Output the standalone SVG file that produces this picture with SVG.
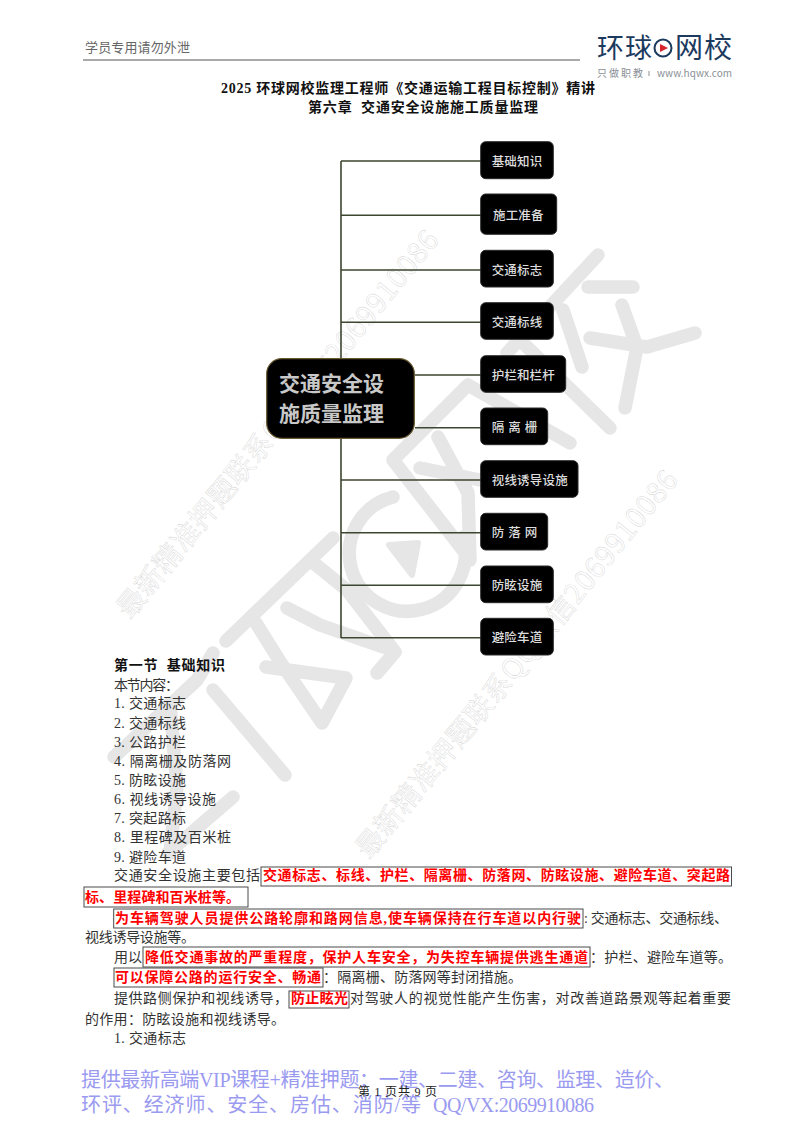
<svg xmlns="http://www.w3.org/2000/svg" width="800" height="1132" viewBox="0 0 800 1132">
<style>
text{font-family:"Liberation Serif","Noto Sans CJK SC",serif;fill:#333;font-size:14px;white-space:pre}
.b{font-weight:700;fill:#111}
.r{font-weight:700;fill:#f00}
.box{fill:none;stroke:#4a4a4a;stroke-width:1}
.wm{fill:none;stroke:#e6e6e6;stroke-width:13.500;stroke-linecap:round;stroke-linejoin:round}
.wt{font-family:"Noto Sans CJK SC","Liberation Sans",sans-serif;font-size:28px;fill:none;stroke:#d2d2d2;stroke-width:.4}
.n{fill:#000;stroke:#2a2a2a;stroke-width:1}
.nt{font-family:"Noto Sans CJK SC",sans-serif;font-size:12.500px;fill:#ddd;font-weight:500}
.rt{font-family:"Noto Sans CJK SC",sans-serif;font-size:21px;font-weight:700;fill:#c8c8c8}
.blue{fill:#9a9af0;font-size:20px}
.c{fill:none;stroke:#3d4630;stroke-width:1.600}
.lg{font-family:"Noto Sans CJK SC",sans-serif;font-weight:400;fill:#1c3a5e}
.tg{font-family:"Noto Sans CJK SC","Liberation Sans",sans-serif;font-size:10px;fill:#8a8f96}
</style>
<rect width="800" height="1132" fill="#fff"/>
<g id="watermark">
<path class="wm" d="M226 641L333 538M287 608L320 625L383 647M377 673L395 652L347 590L310 560M256 623L281 663L322 723M266 667L346 678L322 723M114 757L197 680L213 653M213 690L285 775M233 797L168 853M170 703L177 787L170 853"/>
<path class="wm" d="M393 497A58 58 0 1 0 463 537"/>
<path d="M389 545L418 543L412 575Z" fill="#e6e6e6" stroke="#e6e6e6" stroke-width="6" stroke-linejoin="round"/>
<path class="wm" d="M507 353L598 255M588 287H633M563 310L582 367M590 338L647 347L695 333M622 305L637 347L625 408M520 340L610 428M463 550L393 460L468 385L570 443M438 437L468 493L470 560M420 468L480 480"/>
<text class="wt" transform="translate(130 620) rotate(-50.7)" textLength="490" lengthAdjust="spacing">最新精准押题联系QQ微信2069910086</text>
<text class="wt" transform="translate(369 860) rotate(-50.7)" textLength="490" lengthAdjust="spacing">最新精准押题联系QQ微信2069910086</text>
</g>
<g id="header">
<text x="85" y="52" style="fill:#666;font-size:13px" textLength="105">学员专用请勿外泄</text>
<line x1="83" y1="60" x2="580" y2="60" stroke="#555" stroke-width="1"/>
</g>
<g id="logo">
<text class="lg" x="597" y="58" style="font-size:27px" textLength="55">环球</text>
<circle cx="663" cy="48" r="8.500" fill="none" stroke="#1c3a5e" stroke-width="2"/>
<path d="M660 44L668 48L660 52Z" fill="#d8232a"/>
<text class="lg" x="675" y="58" style="font-size:28px" textLength="57">网校</text>
<text class="tg" x="597" y="77" textLength="46">只做职教</text>
<line x1="649" y1="71" x2="649" y2="76" stroke="#8a8f96" stroke-width="1"/>
<text class="tg" x="657" y="77" textLength="75">www.hqwx.com</text>
</g>
<g id="titles">
<text class="b" x="221" y="93" textLength="374">2025 环球网校监理工程师《交通运输工程目标控制》精讲</text>
<text class="b" x="308" y="112" textLength="230">第六章  交通安全设施施工质量监理</text>
</g>
<g id="connectors">
<path class="c" d="M341 161V638M341 161H481M341 215.300H481M341 270H481M341 322.300H481M415 375H481M415 427.700H481M341 480H481M341 532.700H481M341 585.300H481M341 637.700H481"/>
</g>
<g id="root"><rect x="266.700" y="358.700" width="147.600" height="79.600" rx="15" fill="#000" stroke="#6b5a30" stroke-width="1.200"/>
<text class="rt" x="279" y="391" textLength="105">交通安全设</text>
<text class="rt" x="279" y="421" textLength="105">施质量监理</text></g>
<g id="n1"><rect class="n" x="480.700" y="141.700" width="72.600" height="37" rx="5"/><text class="nt" x="491.700" y="165.500" textLength="50.500">基础知识</text></g>
<g id="n2"><rect class="n" x="480.700" y="194" width="76" height="40.300" rx="5"/><text class="nt" x="493" y="219.800" textLength="50.500">施工准备</text></g>
<g id="n3"><rect class="n" x="480.700" y="250.300" width="72.600" height="36.700" rx="5"/><text class="nt" x="491.700" y="274.500" textLength="50.500">交通标志</text></g>
<g id="n4"><rect class="n" x="480.700" y="302.700" width="72.600" height="36.600" rx="5"/><text class="nt" x="491.700" y="326.800" textLength="50.500">交通标线</text></g>
<g id="n5"><rect class="n" x="480.700" y="355.700" width="85" height="36.600" rx="5"/><text class="nt" x="491.700" y="379.500" textLength="63">护栏和栏杆</text></g>
<g id="n6"><rect class="n" x="480.700" y="408" width="67" height="36.700" rx="5"/><text class="nt" x="491.700" y="432.200" textLength="45.500">隔 离 栅</text></g>
<g id="n7"><rect class="n" x="480.700" y="460.700" width="97.300" height="36.600" rx="5"/><text class="nt" x="491.700" y="484.500" textLength="76">视线诱导设施</text></g>
<g id="n8"><rect class="n" x="480.700" y="513.300" width="67" height="36.700" rx="5"/><text class="nt" x="491.700" y="537.200" textLength="45.500">防 落 网</text></g>
<g id="n9"><rect class="n" x="480.700" y="566" width="72.600" height="36.700" rx="5"/><text class="nt" x="491.700" y="589.800" textLength="50.500">防眩设施</text></g>
<g id="n10"><rect class="n" x="480.700" y="618.300" width="72.600" height="36.700" rx="5"/><text class="nt" x="491.700" y="642.200" textLength="50.500">避险车道</text></g>
<g id="list">
<text class="b" x="114" y="670" textLength="111">第一节  基础知识</text>
<text x="114" y="690" textLength="65">本节内容：</text>
<text x="114" y="708" textLength="72">1. 交通标志</text>
<text x="114" y="728" textLength="72">2. 交通标线</text>
<text x="114" y="747" textLength="72">3. 公路护栏</text>
<text x="114" y="766" textLength="117">4. 隔离栅及防落网</text>
<text x="114" y="785" textLength="72">5. 防眩设施</text>
<text x="114" y="804" textLength="102">6. 视线诱导设施</text>
<text x="114" y="823" textLength="72">7. 突起路标</text>
<text x="114" y="842" textLength="117">8. 里程碑及百米桩</text>
<text x="114" y="862" textLength="72">9. 避险车道</text>
</g>
<g id="body">
<text x="114" y="880" textLength="146">交通安全设施主要包括</text>
<rect class="box" x="261" y="867" width="470.500" height="19"/>
<text class="r" x="263" y="880" textLength="467">交通标志、标线、护栏、隔离栅、防落网、防眩设施、避险车道、突起路</text>
<rect class="box" x="84" y="887" width="164" height="20"/>
<text class="r" x="85" y="902" textLength="155">标、里程碑和百米桩等。</text>
<rect class="box" x="113.700" y="909" width="469.300" height="19"/>
<text class="r" x="115" y="923" textLength="466">为车辆驾驶人员提供公路轮廓和路网信息,使车辆保持在行车道以内行驶</text>
<text x="584" y="923" textLength="144">: 交通标志、交通标线、</text>
<text x="85" y="942" textLength="110">视线诱导设施等。</text>
<text x="114" y="962" textLength="28">用以</text>
<rect class="box" x="143" y="947" width="447" height="20"/>
<text class="r" x="145" y="962" textLength="443">降低交通事故的严重程度，保护人车安全，为失控车辆提供逃生通道</text>
<text x="590" y="962" textLength="142">：护栏、避险车道等。</text>
<rect class="box" x="114" y="968" width="209" height="19"/>
<text class="r" x="115" y="982" textLength="206">可以保障公路的运行安全、畅通</text>
<text x="323" y="982" textLength="199">：隔离栅、防落网等封闭措施。</text>
<text x="114" y="1003" textLength="174">提供路侧保护和视线诱导，</text>
<rect class="box" x="289" y="991" width="60" height="17"/>
<text class="r" x="291" y="1003" textLength="57">防止眩光</text>
<text x="350" y="1003" textLength="381">对驾驶人的视觉性能产生伤害，对改善道路景观等起着重要</text>
<text x="85" y="1024" textLength="200">的作用：防眩设施和视线诱导。</text>
<text x="114" y="1043" textLength="72">1. 交通标志</text>
</g>
<g id="footer">
<text class="blue" x="81" y="1087" textLength="593">提供最新高端VIP课程+精准押题：一建、二建、咨询、监理、造价、</text>
<text class="blue" x="81" y="1112" textLength="340">环评、经济师、安全、房估、消防/等</text>
<text class="blue" x="433" y="1112" textLength="161">QQ/VX:2069910086</text>
<text x="358" y="1096" style="font-size:12px;fill:#222" textLength="79">第 1 页共 9 页</text>
</g>
</svg>
